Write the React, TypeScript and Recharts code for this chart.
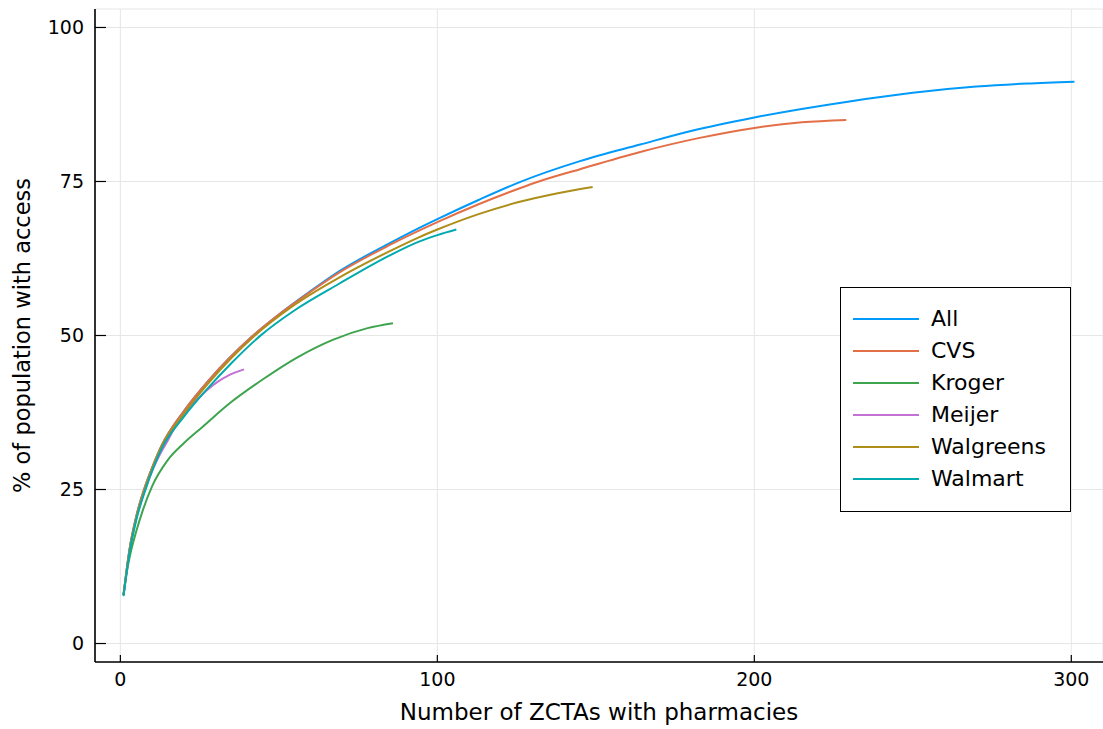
import { CartesianGrid, Legend, Line, LineChart, XAxis, YAxis } from 'recharts';

// cumulative share of population reached vs. number of ZCTAs chosen
const allPts: [number, number][] = [
  [1, 7.9], [2, 12.0], [3, 15.6], [5, 20.6], [8, 25.8], [10, 28.5], [13, 32.1], [20, 37.7],
  [28, 42.8], [41, 49.6], [50, 53.4], [60, 57.2], [69, 60.4], [85, 65.0], [94, 67.4],
  [100, 68.9], [113, 72.0], [126, 74.9], [145, 78.3], [164, 81.0], [180, 83.2], [200, 85.4],
  [230, 88.0], [250, 89.4], [270, 90.4], [286, 90.9], [301, 91.2],
];
const cvsPts: [number, number][] = [
  [1, 7.9], [2, 12.0], [3, 15.6], [5, 20.6], [8, 25.8], [10, 28.5], [13, 32.1], [20, 37.7],
  [28, 42.8], [41, 49.6], [50, 53.4], [60, 57.1], [69, 60.2], [85, 64.7], [100, 68.4],
  [113, 71.3], [126, 73.9], [132, 75.0], [145, 77.0], [164, 79.8], [182, 82.0], [200, 83.7],
  [215, 84.6], [229, 85.0],
];
const krogerPts: [number, number][] = [
  [1, 7.9], [2, 11.5], [3, 14.2], [5, 18.2], [7, 21.5], [10, 25.5], [15, 29.8], [20, 32.5],
  [26, 35.2], [34, 38.8], [45, 42.9], [56, 46.5], [67, 49.3], [78, 51.2], [86, 52.0],
];
const meijerPts: [number, number][] = [
  [1, 7.9], [3, 15.4], [5, 20.2], [8, 25.3], [10, 28.0], [12, 30.2], [15, 33.0], [18, 35.8],
  [22, 38.4], [27, 41.0], [31, 42.6], [34, 43.5], [39, 44.5],
];
const walgreensPts: [number, number][] = [
  [1, 7.9], [3, 15.5], [5, 20.4], [8, 25.5], [13, 32.0], [20, 37.3], [28, 42.4], [42, 49.8],
  [55, 55.0], [69, 59.4], [85, 63.7], [94, 65.9], [100, 67.2], [113, 69.7], [126, 71.7],
  [138, 73.1], [149, 74.1],
];
const walmartPts: [number, number][] = [
  [1, 7.7], [3, 15.0], [5, 20.0], [8, 25.1], [13, 31.6], [20, 36.8], [27, 41.1], [35, 45.5],
  [44, 49.9], [55, 54.1], [69, 58.4], [85, 63.0], [94, 65.2], [100, 66.3], [106, 67.2],
];

const seriesNames = ['All', 'CVS', 'Kroger', 'Meijer', 'Walgreens', 'Walmart'];
const seriesColors = ['#009AFA', '#E36F47', '#3EA44E', '#C371D2', '#AC8E18', '#00AAAE'];
const seriesPts = [allPts, cvsPts, krogerPts, meijerPts, walgreensPts, walmartPts];

const xTicks = [0, 100, 200, 300];
const yTicks = [0, 25, 50, 75, 100];

const FONT = '"DejaVu Sans", sans-serif';

function LegendBox() {
  return (
    <div style={{ position: 'relative', width: 229, height: 223, border: '1px solid #000', background: '#fff', fontFamily: FONT }}>
      {seriesNames.map((name, i) => (
        <div key={name} style={{ position: 'absolute', left: 12, top: 15 + 32 * i, height: 32, display: 'flex', alignItems: 'center' }}>
          <div style={{ width: 66, height: 2, background: seriesColors[i] }} />
          <span style={{ marginLeft: 12, fontSize: 22, lineHeight: '32px', color: '#000', whiteSpace: 'nowrap' }}>{name}</span>
        </div>
      ))}
    </div>
  );
}

export default function App() {
  return (
    <div style={{ position: 'absolute', left: 0, top: 0, width: 1103, height: 729, background: '#fff', fontFamily: FONT }}>
      <LineChart width={1103} height={729} margin={{ top: 9, right: 0, left: 0, bottom: 0 }}>
        <CartesianGrid stroke="#e6e6e6" strokeWidth={1} />
        <XAxis
          type="number"
          dataKey="x"
          domain={[-8, 310]}
          ticks={xTicks}
          allowDataOverflow
          height={67}
          tickSize={-7}
          tickMargin={18}
          axisLine={{ stroke: '#000', strokeWidth: 1.6 }}
          tickLine={{ stroke: '#000', strokeWidth: 1.2 }}
          tick={{ fontSize: 19, fill: '#000', fontFamily: FONT }}
          label={{ value: 'Number of ZCTAs with pharmacies', position: 'insideBottom', offset: 9, style: { fontSize: 23, fill: '#000', fontFamily: FONT } }}
        />
        <YAxis
          type="number"
          domain={[-3, 103]}
          ticks={yTicks}
          allowDataOverflow
          width={95}
          tickSize={-11}
          tickMargin={22}
          axisLine={{ stroke: '#000', strokeWidth: 1.6 }}
          tickLine={{ stroke: '#000', strokeWidth: 1.2 }}
          tick={{ fontSize: 19, fill: '#000', fontFamily: FONT }}
          label={{ value: '% of population with access', angle: -90, position: 'insideLeft', offset: 22, style: { fontSize: 22.5, fill: '#000', fontFamily: FONT, textAnchor: 'middle' } }}
        />
        <Legend
          layout="horizontal"
          verticalAlign="middle"
          align="center"
          content={() => <LegendBox />}
          wrapperStyle={{ left: 840, top: 287, width: 231, height: 225 }}
        />
        {seriesNames.map((name, i) => (
          <Line
            key={name}
            name={name}
            data={seriesPts[i].map(([x, y]) => ({ x, y }))}
            dataKey="y"
            type="monotone"
            stroke={seriesColors[i]}
            strokeWidth={2}
            dot={false}
            activeDot={false}
            isAnimationActive={false}
          />
        ))}
      </LineChart>
    </div>
  );
}
